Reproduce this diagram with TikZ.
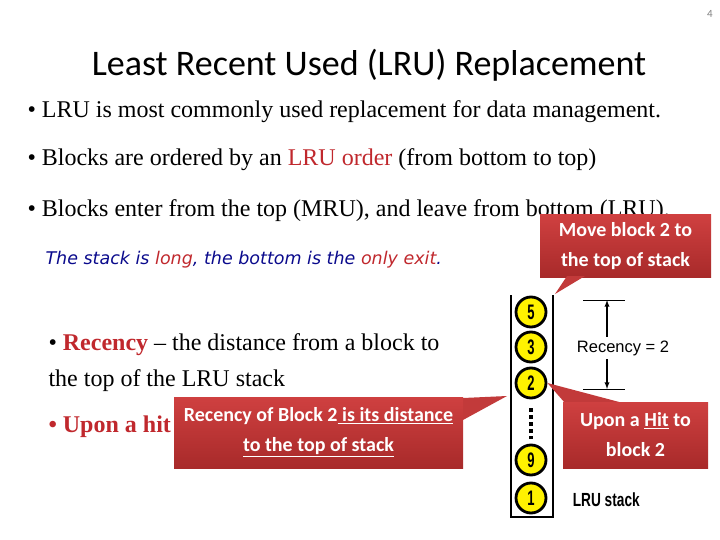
\documentclass[tikz,border=0pt]{standalone}
\usepackage{fontspec}
\setmainfont{Liberation Serif}
\newfontfamily\calfont{Carlito}
\newfontfamily\verdfont{DejaVu Sans}
\newfontfamily\arialfont{Liberation Sans}
\newfontfamily\condfont[FakeStretch=0.72]{Liberation Sans}
\newfontfamily\digfont[FakeStretch=0.62]{Liberation Sans}
\definecolor{hot}{HTML}{C0282D}
\definecolor{navy}{HTML}{0A0A8C}
\definecolor{calTop}{HTML}{CF4040}
\definecolor{calBot}{HTML}{A82A2A}
\definecolor{calMid}{HTML}{C23A3A}
\tikzset{px/.style={x=1pt,y=-1pt,line width=1pt},
  body/.style={anchor=base west,inner sep=0pt,font=\fontsize{24}{28}\selectfont},
  blk/.style={circle,draw=black,line width=2.8pt,fill=yellow,minimum size=30pt,inner sep=0pt,font=\digfont\bfseries\fontsize{21}{21}\selectfont},
  callout/.style={top color=calTop,bottom color=calBot,text=white,align=center,inner sep=0pt,font=\calfont\bfseries\fontsize{20}{30}\selectfont}}
\begin{document}
\begin{tikzpicture}[px]
  \useasboundingbox (0,0) rectangle (720,540);
  \node[gray,font=\calfont\fontsize{11}{11}\selectfont] (pg) at (710,14){4};
  \node[anchor=base,inner sep=0pt,font=\calfont\fontsize{36}{40}\selectfont] (title) at (369,76){Least Recent Used (LRU) Replacement};
  \node[body] (l1) at (27,118){• LRU is most commonly used replacement for data management.};
  \node[body] (l2) at (27,166){• Blocks are ordered by an \textcolor{hot}{LRU order} (from bottom to top)};
  \node[body] (l3) at (27,216){• Blocks enter from the top (MRU), and leave from bottom (LRU).};
  \node[anchor=base west,inner sep=0pt,navy,font=\verdfont\itshape\fontsize{17.5}{20}\selectfont] (note) at (45,264){The stack is \textcolor{hot}{long}, the bottom is the \textcolor{hot}{only exit}.};
  \node[body] (r1) at (48,350){• \textcolor{hot}{\textbf{Recency}} -- the distance from a block to};
  \node[body] (r2) at (48,386){the top of the LRU stack};
  \node[body,text=hot] (hit) at (48,432){\textbf{• Upon a hit}};
  % the stack
  \draw[line width=2pt] (511,295) -- (511,517) -- (553,517) -- (553,295);
  \foreach \n/\y in {5/312,3/347,2/383,9/460,1/498}{\node[blk] (b\n) at (531,\y){\n};}
  \draw[line width=4pt,dash pattern=on 4pt off 3pt] (b2.south) ++(0,9) coordinate (dt) -- ++(0,31) coordinate (db);
  \node[anchor=west,font=\condfont\bfseries\fontsize{19}{19}\selectfont] (stk) at (569,500){LRU stack};
  % recency = 2
  \coordinate (rt) at (607,300); \coordinate (rb) at (607,389);
  \draw (583,300) -- (625,300); \draw (583,389) -- (625,389);
  \node[font=\arialfont\fontsize{16.5}{16.5}\selectfont] (rec) at (623,348){Recency = 2};
  \draw[-latex,line width=1.3pt] (rec.north -| rt) -- (rt);
  \draw[-latex,line width=1.3pt] (rec.south -| rb) -- (rb);
  % callouts
  \node[callout,minimum width=171pt,minimum height=62pt] (mv) at (625.5,246){Move block 2 to\\the top of stack};
  \fill[calMid] (567,276) -- (555,294) -- (585,276) -- cycle;
  \fill[calMid] (463,398) -- (507,396) -- (463,420) -- cycle;
  \node[callout,minimum width=289pt,minimum height=71pt] (dist) at (318.5,432.5){Recency of Block 2\underline{ is its distance}\\\underline{to the top of stack}};
  \fill[calMid] (565,403) -- (b2.east) -- (623,403) -- cycle;
  \node[callout,minimum width=145pt,minimum height=66pt] (up) at (635.5,435){Upon a \underline{Hit} to\\block 2};
\end{tikzpicture}
\end{document}
